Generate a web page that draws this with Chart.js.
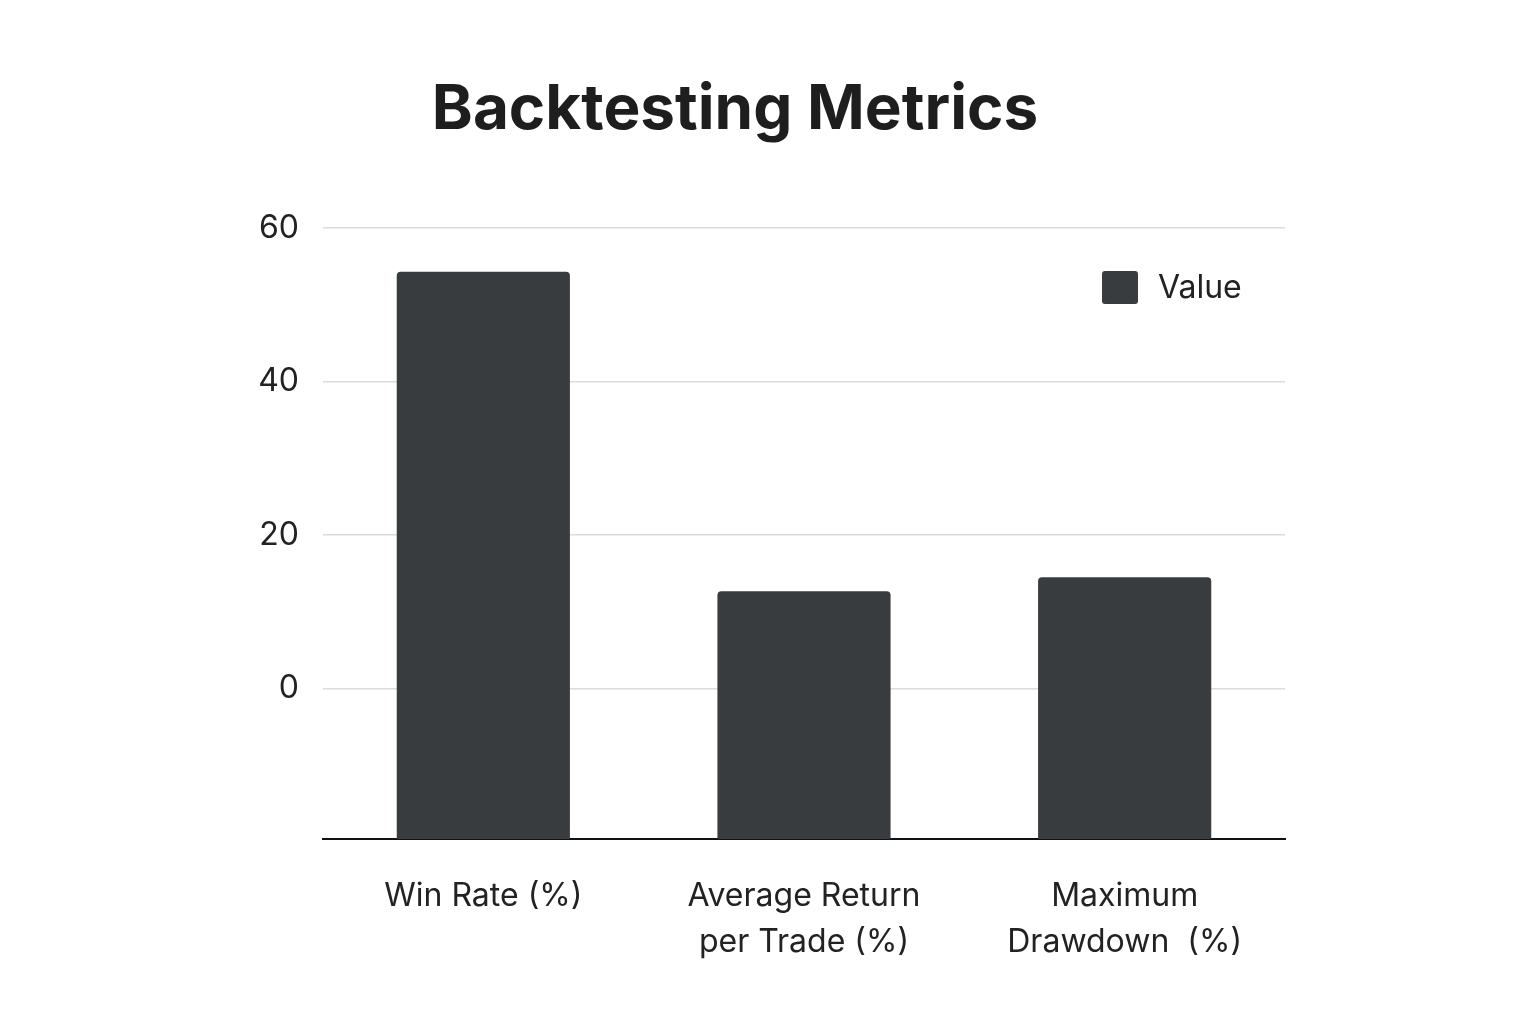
<!DOCTYPE html>
<html>
<head>
<meta charset="utf-8">
<script src="https://cdn.jsdelivr.net/npm/chart.js@4/dist/chart.umd.min.js"></script>
<style>
  body { margin: 0; background: #fff; }
  canvas { display: block; }
</style>
</head>
<body>
<canvas id="c" width="1536" height="1024"></canvas>
<script>
// chart data
const categories = [['Win Rate (%)'], ['Average Return', 'per Trade (%)'], ['Maximum', 'Drawdown  (%)']];
const values = [54.3, 12.7, 14.5];
const seriesName = 'Value';
const titleText = 'Backtesting Metrics';
const yTicks = [0, 20, 40, 60];
const yBottom = -19.6;

const font = "'Inter', 'Noto Sans', sans-serif";
const barColor = '#383c3f';

// title + in-plot legend drawn by hand so they sit where the reference has them
const overlay = {
  id: 'overlay',
  afterDraw(chart) {
    const ctx = chart.ctx;
    ctx.save();
    ctx.fillStyle = '#1e1e1e';
    ctx.font = 'bold 62px ' + font;
    ctx.textAlign = 'center';
    ctx.textBaseline = 'middle';
    ctx.fillText(titleText, 735, 110);

    ctx.fillStyle = barColor;
    ctx.beginPath();
    ctx.roundRect(1102, 271, 36, 33, 3);
    ctx.fill();
    ctx.fillStyle = '#222';
    ctx.font = '32px ' + font;
    ctx.textAlign = 'left';
    ctx.fillText(chart.data.datasets[0].label, 1158, 288);
    ctx.restore();
  }
};

new Chart(document.getElementById('c'), {
  type: 'bar',
  data: {
    labels: categories,
    datasets: [{
      label: seriesName,
      data: values,
      base: yBottom,
      backgroundColor: barColor,
      borderRadius: 4,
      borderSkipped: 'bottom',
      barPercentage: 0.54,
      categoryPercentage: 1
    }]
  },
  options: {
    responsive: false,
    animation: false,
    layout: { padding: { left: 0, right: 251, top: 228, bottom: 32 } },
    plugins: {
      legend: { display: false },
      tooltip: { enabled: false }
    },
    scales: {
      x: {
        grid: { display: false },
        border: { display: true, color: '#111', width: 2 },
        ticks: {
          color: '#222',
          font: { family: font, size: 32, lineHeight: 1.45 },
          padding: 26,
          maxRotation: 0
        }
      },
      y: {
        min: yBottom,
        max: 60,
        afterFit: s => { s.width = 323; },
        afterBuildTicks: s => { s.ticks = yTicks.map(v => ({ value: v })); },
        border: { display: false },
        grid: { color: '#dcdcdc', lineWidth: 1.5, drawTicks: false },
        ticks: {
          color: '#222',
          font: { family: font, size: 32 },
          padding: 24
        }
      }
    }
  },
  plugins: [overlay]
});
</script>
</body>
</html>
